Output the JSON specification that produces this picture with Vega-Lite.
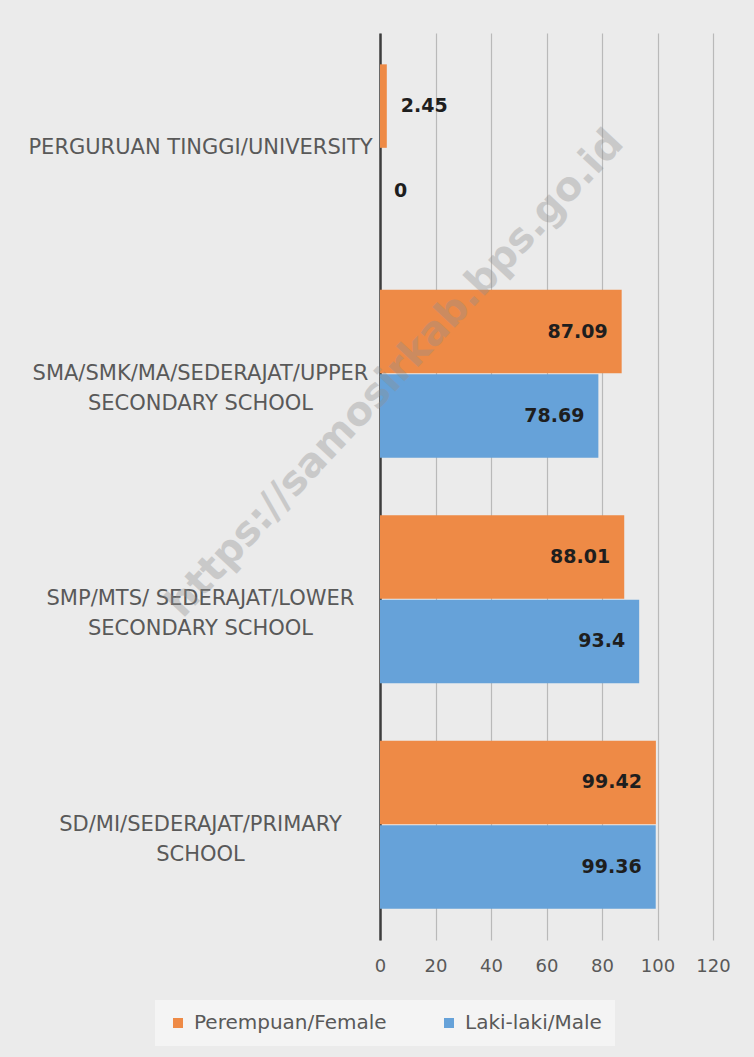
{
  "$schema": "https://vega.github.io/schema/vega-lite/v6.json",
  "width": 333,
  "height": 907,
  "autosize": {"type": "none"},
  "padding": {"left": 380, "top": 33, "right": 41, "bottom": 117},
  "background": "#ebebeb",
  "config": {"view": {"stroke": null}, "font": "DejaVu Sans"},
  "data": {
    "values": [
      {"level": "PERGURUAN TINGGI/UNIVERSITY", "sex": "Perempuan/Female", "value": 2.45},
      {"level": "PERGURUAN TINGGI/UNIVERSITY", "sex": "Laki-laki/Male", "value": 0},
      {"level": "SMA/SMK/MA/SEDERAJAT/UPPER|SECONDARY SCHOOL", "sex": "Perempuan/Female", "value": 87.09},
      {"level": "SMA/SMK/MA/SEDERAJAT/UPPER|SECONDARY SCHOOL", "sex": "Laki-laki/Male", "value": 78.69},
      {"level": "SMP/MTS/ SEDERAJAT/LOWER|SECONDARY SCHOOL", "sex": "Perempuan/Female", "value": 88.01},
      {"level": "SMP/MTS/ SEDERAJAT/LOWER|SECONDARY SCHOOL", "sex": "Laki-laki/Male", "value": 93.4},
      {"level": "SD/MI/SEDERAJAT/PRIMARY|SCHOOL", "sex": "Perempuan/Female", "value": 99.42},
      {"level": "SD/MI/SEDERAJAT/PRIMARY|SCHOOL", "sex": "Laki-laki/Male", "value": 99.36}
    ]
  },
  "encoding": {
    "y": {
      "field": "level",
      "type": "nominal",
      "sort": [
        "PERGURUAN TINGGI/UNIVERSITY",
        "SMA/SMK/MA/SEDERAJAT/UPPER|SECONDARY SCHOOL",
        "SMP/MTS/ SEDERAJAT/LOWER|SECONDARY SCHOOL",
        "SD/MI/SEDERAJAT/PRIMARY|SCHOOL"
      ],
      "scale": {"paddingInner": 0.255, "paddingOuter": 0.139},
      "axis": {
        "title": null,
        "ticks": false,
        "labelExpr": "split(datum.label, '|')",
        "labelAlign": "center",
        "labelBaseline": "middle",
        "labelPadding": 180,
        "labelLimit": 0,
        "labelFontSize": 21,
        "labelLineHeight": 30,
        "labelColor": "#595959",
        "domainColor": "#3d3d3d",
        "domainWidth": 2.5
      }
    }
  },
  "layer": [
    {
      "mark": {"type": "bar"},
      "encoding": {
        "x": {
          "field": "value",
          "type": "quantitative",
          "scale": {"domain": [0, 120]},
          "axis": {
            "title": null,
            "values": [0, 20, 40, 60, 80, 100, 120],
            "domain": false,
            "ticks": false,
            "grid": true,
            "gridColor": "#b9b9b9",
            "gridWidth": 1.2,
            "labelFontSize": 18,
            "labelColor": "#595959",
            "labelPadding": 17,
            "labelFlush": false
          }
        },
        "yOffset": {
          "field": "sex",
          "type": "nominal",
          "sort": ["Perempuan/Female", "Laki-laki/Male"],
          "scale": {"paddingInner": 0.012}
        },
        "color": {
          "field": "sex",
          "type": "nominal",
          "sort": ["Perempuan/Female", "Laki-laki/Male"],
          "scale": {"domain": ["Perempuan/Female", "Laki-laki/Male"], "range": ["#EE8A46", "#66A2D9"]},
          "legend": {
            "title": null,
            "orient": "none",
            "legendX": -225,
            "legendY": 967,
            "direction": "horizontal",
            "fillColor": "#f4f4f4",
            "padding": 13,
            "symbolType": "square",
            "symbolSize": 100,
            "symbolStrokeWidth": 0,
            "labelFontSize": 20,
            "labelLimit": 0,
            "labelColor": "#595959",
            "labelOffset": 6,
            "columnPadding": 52
          }
        }
      }
    },
    {
      "transform": [{"filter": "datum.value > 10"}],
      "mark": {"type": "text", "align": "right", "baseline": "middle", "dx": -14, "fontWeight": "bold", "fontSize": 19, "color": "#1e1e1e"},
      "encoding": {
        "x": {"field": "value", "type": "quantitative"},
        "yOffset": {"field": "sex", "type": "nominal", "sort": ["Perempuan/Female", "Laki-laki/Male"]},
        "text": {"field": "value", "type": "quantitative", "format": "~g"}
      }
    },
    {
      "transform": [{"filter": "datum.value <= 10"}],
      "mark": {"type": "text", "align": "left", "baseline": "middle", "dx": 14, "fontWeight": "bold", "fontSize": 19, "color": "#1e1e1e"},
      "encoding": {
        "x": {"field": "value", "type": "quantitative"},
        "yOffset": {"field": "sex", "type": "nominal", "sort": ["Perempuan/Female", "Laki-laki/Male"]},
        "text": {"field": "value", "type": "quantitative", "format": "~g"}
      }
    },
    {
      "data": {"values": [{"wm": "https://samosirkab.bps.go.id", "level": "SMA/SMK/MA/SEDERAJAT/UPPER|SECONDARY SCHOOL", "value": 5.5}]},
      "mark": {"type": "text", "angle": -47, "align": "center", "baseline": "middle", "fontWeight": "bold", "fontSize": 40, "color": "#8f8f8f", "opacity": 0.36},
      "encoding": {
        "x": {"field": "value", "type": "quantitative"},
        "text": {"field": "wm"}
      }
    }
  ]
}
